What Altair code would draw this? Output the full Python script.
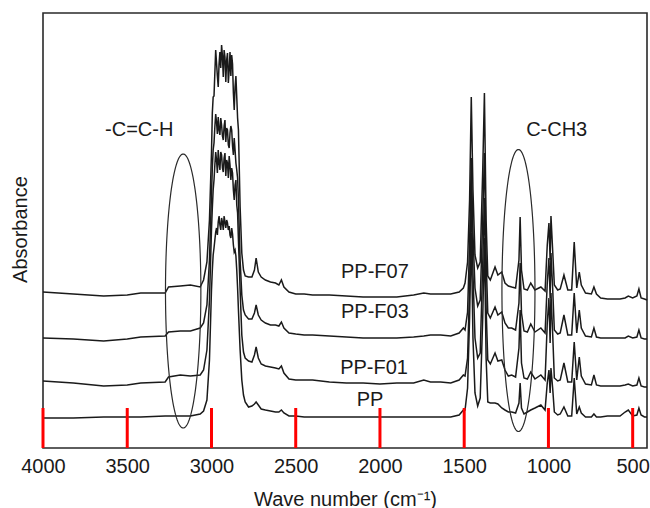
import altair as alt
import numpy as np
import pandas as pd

# ---------------- data ----------------
wavenumber = [
    4000, 3820, 3640, 3500, 3420, 3275, 3255, 3185, 3125,
    3067, 3047, 3027, 3012, 3000, 2995, 2990, 2985, 2980, 2975,
    2970, 2965, 2960, 2955, 2950, 2945, 2940, 2935, 2930, 2925,
    2920, 2915, 2910, 2905, 2900, 2895, 2890, 2885, 2880, 2875,
    2870, 2865, 2860, 2855, 2850, 2845, 2840, 2830, 2820, 2810,
    2800, 2780, 2760, 2745, 2735, 2722, 2705,
    2680, 2650, 2620, 2600, 2585, 2570, 2540, 2500, 2450, 2400, 2300, 2200, 2100,
    2000, 1900, 1800, 1740, 1700, 1640, 1580, 1530, 1505,
    1495, 1480, 1468, 1458, 1448, 1436, 1420, 1405, 1390, 1380,
    1370, 1360, 1345, 1317, 1300, 1277, 1258, 1238, 1218, 1195,
    1175, 1168, 1160, 1145, 1125, 1105, 1080, 1045, 1020, 1007,
    997, 990, 985, 975, 965, 945, 930, 908, 885, 862,
    847, 832, 817, 805, 780, 745, 730, 715, 690, 650,
    600, 575, 545, 526, 500, 475, 463, 450, 430, 415,
]

pp_f07 = [
    156, 154, 152, 153, 155, 155, 161, 162, 163,
    161, 168, 186, 228, 295, 335, 351, 352, 375, 398,
    385, 372, 361, 384, 396, 380, 403, 392, 371, 398,
    391, 366, 388, 395, 365, 378, 396, 372, 393, 384,
    355, 338, 361, 372, 351, 330, 318, 241, 195, 178,
    172, 171, 171, 178, 190, 176, 171,
    168, 166, 165, 163, 168, 161, 156, 154, 154, 153, 153, 152, 151,
    151, 151, 153, 155, 154, 154, 154, 156, 160,
    165, 186, 248, 351, 258, 193, 180, 186, 278, 355,
    228, 172, 168, 181, 173, 176, 165, 162, 161, 160,
    188, 231, 178, 159, 158, 165, 158, 161, 157, 203,
    225, 188, 232, 198, 163, 158, 159, 173, 158, 158,
    206, 160, 176, 163, 155, 154, 161, 154, 150, 149,
    149, 149, 150, 152, 150, 152, 159, 150, 149, 148,
]

pp_f03 = [
    110, 109, 107, 109, 111, 112, 116, 117, 117,
    120, 125, 143, 188, 253, 280, 298, 305, 321, 334,
    326, 314, 331, 318, 313, 330, 323, 312, 308, 322,
    328, 306, 320, 318, 303, 300, 315, 322, 318, 302,
    293, 310, 298, 285, 278, 270, 248, 188, 153, 138,
    133, 129, 129, 135, 143, 133, 128,
    125, 123, 123, 122, 126, 120, 115, 114, 113, 113, 112, 111, 110,
    110, 110, 111, 112, 113, 113, 112, 115, 120,
    118, 136, 205, 290, 215, 160, 142, 148, 230, 295,
    190, 135, 130, 141, 133, 136, 125, 120, 120, 118,
    145, 185, 135, 117, 116, 124, 116, 120, 115, 165,
    190, 150, 195, 160, 118, 114, 115, 133, 113, 113,
    155, 115, 138, 120, 112, 111, 120, 111, 110, 110,
    110, 110, 110, 112, 110, 111, 118, 110, 109, 109,
]

pp_f01 = [
    67, 65, 62, 63, 65, 66, 71, 73, 72,
    73, 78, 98, 148, 218, 240, 258, 268, 283, 296,
    288, 275, 298, 285, 278, 296, 293, 280, 276, 290,
    295, 272, 288, 285, 270, 292, 283, 268, 280, 275,
    258, 248, 263, 268, 243, 235, 208, 158, 113, 96,
    90, 87, 86, 93, 101, 90, 84,
    82, 81, 80, 79, 82, 75, 69, 68, 68, 68, 66, 65, 65,
    64, 65, 65, 68, 66, 66, 65, 68, 73,
    72, 90, 160, 255, 175, 110, 90, 95, 185, 250,
    140, 88, 84, 95, 87, 88, 78, 72, 73, 71,
    100, 138, 85, 70, 69, 76, 69, 73, 68, 125,
    150, 105, 155, 115, 70, 67, 68, 85, 66, 66,
    106, 68, 91, 72, 64, 63, 73, 63, 62, 62,
    62, 62, 63, 64, 62, 63, 70, 62, 61, 61,
]

pp = [
    30, 30, 31, 31, 31, 32, 32, 32, 32,
    34, 37, 48, 88, 158, 178, 193, 200, 208, 216,
    220, 213, 226, 232, 223, 218, 230, 226, 218, 232,
    226, 220, 228, 225, 218, 222, 213, 210, 220, 214,
    203, 196, 198, 192, 178, 160, 138, 98, 68, 53,
    46, 41, 42, 44, 46, 43, 39,
    38, 37, 36, 36, 38, 35, 32, 32, 31, 31, 31, 31, 31,
    31, 31, 31, 31, 31, 31, 31, 33, 38,
    38, 60, 130, 215, 110, 55, 42, 50, 130, 210,
    90, 46, 45, 45, 44, 40, 38, 36, 36, 35,
    45, 65, 40, 34, 36, 38, 40, 43, 38, 65,
    78, 55, 80, 60, 36, 33, 34, 41, 32, 32,
    70, 34, 41, 35, 31, 31, 34, 31, 31, 32,
    32, 32, 36, 38, 32, 33, 40, 33, 31, 31,
]

series_names = ["PP-F07", "PP-F03", "PP-F01", "PP"]
series_values = [pp_f07, pp_f03, pp_f01, pp]

label_text = ["PP-F07", "PP-F03", "PP-F01", "PP", "-C=C-H", "C-CH3"]
label_wn = [2030, 2030, 2035, 2059, 3429, 951]
label_val = [176, 136, 80, 48, 318, 318]

ellipse_cx = [3168, 1178]
ellipse_cy = [157, 157.5]
ellipse_rx = [105, 98]
ellipse_ry = [137, 141]

tick_values = [4000, 3500, 3000, 2500, 2000, 1500, 1000, 500]

rows = []
for name, vals in zip(series_names, series_values):
    assert len(vals) == len(wavenumber), name
    for w, v in zip(wavenumber, vals):
        rows.append({"wn": w, "val": v, "series": name})
spectra = pd.DataFrame(rows)

t = np.linspace(0, 2 * np.pi, 181)
erows = []
for k, (cx, cy, rx, ry) in enumerate(zip(ellipse_cx, ellipse_cy, ellipse_rx, ellipse_ry)):
    for i, tt in enumerate(t):
        erows.append({"wn": cx + rx * np.cos(tt), "val": cy + ry * np.sin(tt),
                      "shape": k, "idx": i})
ellipses = pd.DataFrame(erows)

labels = pd.DataFrame({"wn": label_wn, "val": label_val, "label": label_text})
ticks = pd.DataFrame({"wn": tick_values})

W, H = 604, 435
FONT = "Liberation Sans"
INK = "#1a1a1a"

x_scale = alt.Scale(domain=[4000, 415], nice=False, zero=False)
y_scale = alt.Scale(domain=[0, 435], nice=False, zero=False)

x_enc = alt.X(
    "wn:Q",
    scale=x_scale,
    axis=alt.Axis(
        values=tick_values, format="d", title="Wave number (cm⁻¹)", grid=False,
        ticks=False, domain=False, labelFontSize=20, labelFont=FONT,
        labelColor=INK, labelPadding=8, labelFlush=False, labelOverlap=False,
        titleFontSize=20, titleFont=FONT, titleColor=INK, titleFontWeight="normal",
        titleX=W / 2, titleY=57, titleBaseline="alphabetic", titleAlign="center",
    ),
)
y_enc = alt.Y(
    "val:Q",
    scale=y_scale,
    axis=alt.Axis(
        title="Absorbance", labels=False, ticks=False, domain=False, grid=False,
        titleFontSize=20, titleFont=FONT, titleColor=INK, titleFontWeight="normal",
        titleX=-23, titleY=216, titleAngle=270, titleBaseline="middle",
        titleAlign="center",
    ),
)

lines = alt.Chart(spectra).mark_line(color=INK, strokeWidth=1.5).encode(
    x=x_enc, y=y_enc, detail="series:N"
)

ell = alt.Chart(ellipses).mark_line(color="#2a2a2a", strokeWidth=1.2).encode(
    x=x_enc, y=y_enc, detail="shape:N", order="idx:Q"
)

txt = alt.Chart(labels).mark_text(
    font=FONT, fontSize=20, color=INK, align="center", baseline="middle"
).encode(x=x_enc, y=y_enc, text="label:N")

# inward tick marks on the bottom frame (diagnostic: bright and long)
tk = alt.Chart(ticks).mark_rule(color="red", strokeWidth=3).encode(
    x=x_enc,
    y=alt.Y(datum=0, type="quantitative", scale=y_scale),
    y2=alt.Y2(datum=40),
)

chart = (
    alt.layer(lines, ell, txt, tk)
    .properties(
        width=W, height=H,
        autosize=alt.AutoSizeParams(type="none"),
        padding={"left": 43, "top": 13, "right": 3, "bottom": 60},
        background="white",
    )
    .configure_view(stroke="#2a2a2a", strokeWidth=1.6)
)

chart.save("out.html", embed_options={"renderer": "svg", "actions": False})
